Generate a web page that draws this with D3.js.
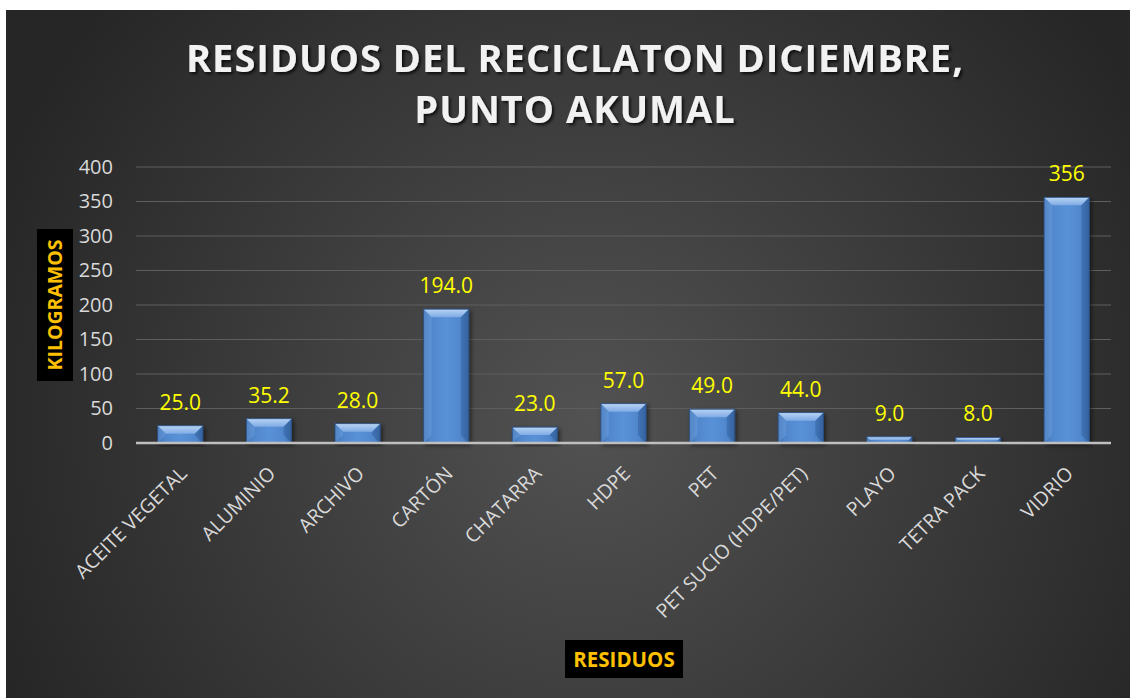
<!DOCTYPE html>
<html><head><meta charset="utf-8">
<script src="https://cdn.jsdelivr.net/npm/d3@7/dist/d3.min.js"></script>
<style>body{margin:0;background:#fff}svg{display:block}</style>
</head><body><svg id="c" width="1130" height="698"></svg>
<script>
const categories = ["ACEITE VEGETAL","ALUMINIO","ARCHIVO","CARTÓN","CHATARRA","HDPE","PET","PET SUCIO (HDPE/PET)","PLAYO","TETRA PACK","VIDRIO"];
const values = [25, 35.2, 28, 194, 23, 57, 49, 44, 9, 8, 356];
const valueLabels = ["25.0","35.2","28.0","194.0","23.0","57.0","49.0","44.0","9.0","8.0","356"];
const yTicks = [0,50,100,150,200,250,300,350,400];
const titleLines = ["RESIDUOS DEL RECICLATON DICIEMBRE,","PUNTO AKUMAL"];
const yTitle = "KILOGRAMOS";
const xTitle = "RESIDUOS";

const svg = d3.select("#c");
const defs = svg.append("defs");
const rg = defs.append("radialGradient").attr("id","bg").attr("gradientUnits","userSpaceOnUse")
  .attr("cx",590).attr("cy",420).attr("r",640);
rg.append("stop").attr("offset","0").attr("stop-color","#525252");
rg.append("stop").attr("offset","1").attr("stop-color","#262626");
const bg = defs.append("linearGradient").attr("id","barG").attr("x1","0").attr("x2","1").attr("y1","0").attr("y2","0");
bg.append("stop").attr("offset","0").attr("stop-color","#3d6eae");
bg.append("stop").attr("offset","0.15").attr("stop-color","#4f86cc");
bg.append("stop").attr("offset","0.5").attr("stop-color","#5a92d8");
bg.append("stop").attr("offset","0.85").attr("stop-color","#4f86cc");
bg.append("stop").attr("offset","1").attr("stop-color","#3a69a6");
const tg = defs.append("linearGradient").attr("id","topG").attr("x1","0").attr("x2","0").attr("y1","0").attr("y2","1");
tg.append("stop").attr("offset","0").attr("stop-color","#b8d4f4");
tg.append("stop").attr("offset","1").attr("stop-color","#7fabe4");
const f = defs.append("filter").attr("id","sh").attr("x","-20%").attr("y","-20%").attr("width","140%").attr("height","140%");
f.append("feDropShadow").attr("dx",2).attr("dy",2).attr("stdDeviation",2).attr("flood-color","#000").attr("flood-opacity",0.5);
const tf = defs.append("filter").attr("id","tsh").attr("x","-10%").attr("y","-30%").attr("width","120%").attr("height","160%");
tf.append("feDropShadow").attr("dx",2).attr("dy",2).attr("stdDeviation",1.5).attr("flood-color","#000").attr("flood-opacity",0.75);

svg.append("rect").attr("x",6).attr("y",10).attr("width",1124).attr("height",688).attr("fill","url(#bg)");

const m = {left:136, right:1111, top:167, bottom:443};
const x = d3.scaleBand().domain(categories).range([m.left,m.right]).paddingInner(0.49).paddingOuter(0.245);
const y = d3.scaleLinear().domain([0,400]).range([m.bottom,m.top]);

// gridlines
svg.append("g").selectAll("line").data(yTicks.filter(t=>t>0)).join("line")
  .attr("x1",m.left).attr("x2",m.right).attr("y1",d=>y(d)).attr("y2",d=>y(d))
  .attr("stroke","#5e5e5e").attr("stroke-width",1);

// y axis labels
const yAxis = svg.append("g").attr("transform",`translate(${m.left},0)`)
  .call(d3.axisLeft(y).tickValues(yTicks).tickSize(0).tickPadding(23));
yAxis.select(".domain").remove();
yAxis.selectAll("text").attr("fill","#d9d9d9").attr("font-family","'Open Sans', sans-serif").attr("font-size",20);

// bars
const bev = 8;
const bars = svg.append("g").selectAll("g").data(values).join("g").attr("filter","url(#sh)");
bars.each(function(v,i){
  const g = d3.select(this);
  const x0 = x(categories[i]), w = x.bandwidth(), top = y(v), h = y(0)-y(v);
  const b = Math.min(bev, h/2, w/2);
  g.append("rect").attr("x",x0).attr("y",top).attr("width",w).attr("height",h).attr("fill","url(#barG)");
  g.append("polygon").attr("points",`${x0},${top} ${x0+w},${top} ${x0+w-b},${top+b} ${x0+b},${top+b}`).attr("fill","url(#topG)");
  g.append("polygon").attr("points",`${x0},${top} ${x0+b},${top+b} ${x0+b},${top+h-b} ${x0},${top+h}`).attr("fill","#6f9fdc").attr("opacity",0.45);
  g.append("polygon").attr("points",`${x0+w},${top} ${x0+w-b},${top+b} ${x0+w-b},${top+h-b} ${x0+w},${top+h}`).attr("fill","#2f5c98").attr("opacity",0.5);
  g.append("rect").attr("x",x0).attr("y",top).attr("width",w).attr("height",h).attr("fill","none").attr("stroke","#2a4f82").attr("stroke-width",0.8);
});

// baseline
svg.append("line").attr("x1",m.left).attr("x2",m.right).attr("y1",y(0)).attr("y2",y(0)).attr("stroke","#bfbfbf").attr("stroke-width",2.5);

// value labels
svg.append("g").selectAll("text").data(values).join("text")
  .attr("x",(d,i)=>x(categories[i])+x.bandwidth()/2).attr("y",d=>y(d)-16)
  .attr("text-anchor","middle").attr("fill","#ffff00")
  .attr("font-family","'Open Sans', sans-serif").attr("font-size",21)
  .text((d,i)=>valueLabels[i]);

// category labels
const xAxis = svg.append("g").attr("transform",`translate(0,${m.bottom})`)
  .call(d3.axisBottom(x).tickSize(0).tickPadding(0));
xAxis.select(".domain").remove();
xAxis.selectAll("text").attr("fill","#d9d9d9").attr("font-family","'Open Sans', sans-serif").attr("font-size",19.5)
  .attr("text-anchor","end").attr("dy","0.35em")
  .attr("transform","translate(3,27) rotate(-45)");

// title
svg.append("g").attr("filter","url(#tsh)").selectAll("text").data(titleLines).join("text")
  .attr("x",575).attr("y",(d,i)=>72+i*51).attr("text-anchor","middle")
  .attr("fill","#f2f2f2").attr("font-family","'Open Sans', sans-serif").attr("font-weight","bold")
  .attr("font-size",38).attr("letter-spacing",1).text(d=>d);

// y title
svg.append("rect").attr("x",37).attr("y",229).attr("width",36).attr("height",152).attr("fill","#000");
svg.append("text").attr("transform","translate(62,305) rotate(-90)").attr("text-anchor","middle")
  .attr("fill","#ffc000").attr("font-family","'Open Sans', sans-serif").attr("font-weight","bold").attr("font-size",19.5).text(yTitle);

// x title
svg.append("rect").attr("x",565).attr("y",640).attr("width",118).attr("height",38).attr("fill","#000");
svg.append("text").attr("x",624).attr("y",667).attr("text-anchor","middle")
  .attr("fill","#ffc000").attr("font-family","'Open Sans', sans-serif").attr("font-weight","bold").attr("font-size",20.5).text(xTitle);
</script></body></html>
